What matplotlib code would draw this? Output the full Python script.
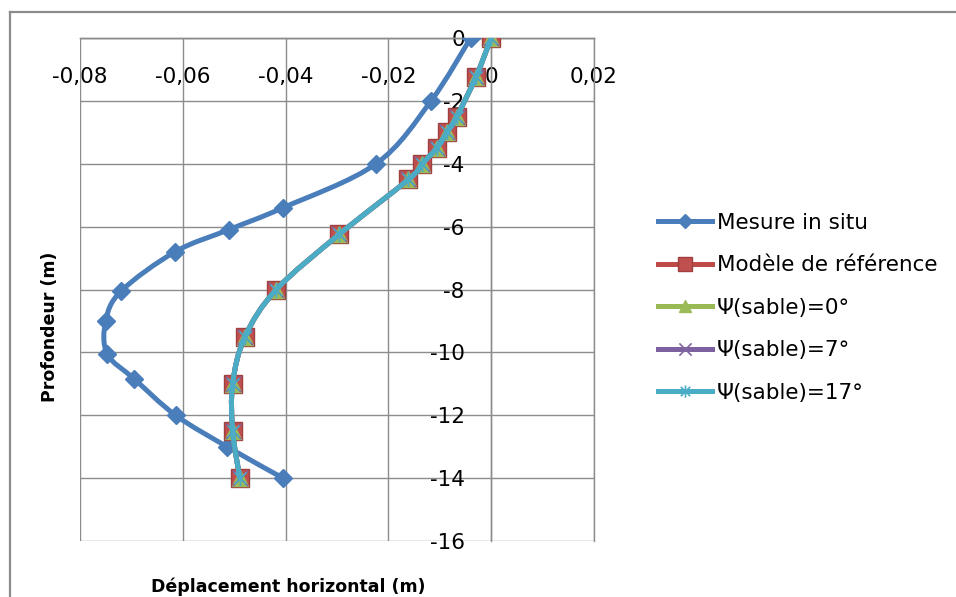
import numpy as np
import matplotlib
matplotlib.use("Agg")
import matplotlib.pyplot as plt
from matplotlib.path import Path
from matplotlib.patches import PathPatch
from matplotlib.lines import Line2D

# Données
prof_mesure = [0, -2, -4, -5.4, -6.1, -6.8, -8.05, -9.0, -10.05, -10.85, -12.0, -13.0, -14.0]
depl_mesure = [-0.004, -0.0117, -0.0224, -0.0405, -0.0511, -0.0615, -0.0720, -0.0750, -0.0747, -0.0694, -0.0614, -0.0514, -0.0405]

prof_ref = [0, -1.25, -2.5, -3.0, -3.5, -4.0, -4.5, -6.25, -8.0, -9.5, -11.0, -12.5, -14.0]
depl_ref = [0, -0.003, -0.0067, -0.0086, -0.0106, -0.0134, -0.0161, -0.0296, -0.0418, -0.0479, -0.0503, -0.0503, -0.0489]

depl_psi0 = [0, -0.003, -0.0067, -0.0086, -0.0106, -0.0134, -0.0161, -0.0296, -0.0418, -0.0479, -0.0503, -0.0503, -0.0489]
depl_psi7 = [0, -0.003, -0.0067, -0.0086, -0.0106, -0.0134, -0.0161, -0.0296, -0.0418, -0.0479, -0.0503, -0.0503, -0.0489]
depl_psi17 = [0, -0.003, -0.0067, -0.0086, -0.0106, -0.0134, -0.0161, -0.0296, -0.0418, -0.0479, -0.0503, -0.0503, -0.0489]

noms = ["Mesure in situ", "Modèle de référence", "\u03a8(sable)=0°", "\u03a8(sable)=7°", "\u03a8(sable)=17°"]

x_ticks = [-0.08, -0.06, -0.04, -0.02, 0, 0.02]
x_ticklabels = ["-0,08", "-0,06", "-0,04", "-0,02", "0", "0,02"]
y_ticks = [0, -2, -4, -6, -8, -10, -12, -14, -16]
y_ticklabels = ["0", "-2", "-4", "-6", "-8", "-10", "-12", "-14", "-16"]


def courbe_lisse(x, y):
    # lissage type Excel (Catmull-Rom -> Bezier)
    pts = np.column_stack([x, y]).astype(float)
    n = len(pts)
    verts = [pts[0]]
    codes = [Path.MOVETO]
    for i in range(n - 1):
        p0 = pts[i - 1] if i > 0 else pts[i]
        p1 = pts[i]
        p2 = pts[i + 1]
        p3 = pts[i + 2] if i + 2 < n else pts[i + 1]
        verts += [p1 + (p2 - p0) / 6, p2 - (p3 - p1) / 6, p2]
        codes += [Path.CURVE4] * 3
    return Path(verts, codes)


star = Path([(-1, -1), (1, 1), (-1, 1), (1, -1), (0, -1.3), (0, 1.3)],
            [Path.MOVETO, Path.LINETO] * 3)
xmark = Path([(-1, -1), (1, 1), (-1, 1), (1, -1)], [Path.MOVETO, Path.LINETO] * 2)

series = [
    (depl_mesure, prof_mesure, "#4a7ebb", dict(marker="D", ms=9, mfc="#4a7ebb", mec="#4a7ebb")),
    (depl_ref, prof_ref, "#be4b48", dict(marker="s", ms=13, mfc="#c0504d", mec="#a0403e", mew=1)),
    (depl_psi0, prof_ref, "#98b954", dict(marker="^", ms=11, mfc="#9bbb59", mec="#9bbb59")),
    (depl_psi7, prof_ref, "#7d60a0", dict(marker=xmark, ms=11, mfc="none", mec="#8064a2", mew=1.2)),
    (depl_psi17, prof_ref, "#4bacc6", dict(marker=star, ms=11, mfc="none", mec="#4bacc6", mew=1.2)),
]

fig = plt.figure(figsize=(9.56, 5.97), dpi=100)
ax = fig.add_axes([80 / 956, 1 - 541 / 597, 514 / 956, 503 / 597])

handles = []
for k, (x, y, c, mk) in enumerate(series):
    ax.add_patch(PathPatch(courbe_lisse(x, y), facecolor="none", edgecolor=c,
                           lw=3.6, zorder=3 + 2 * k, capstyle="round", joinstyle="round"))
    ax.plot(x, y, ls="none", zorder=4 + 2 * k, **mk)
    hk = dict(mk)
    hk["ms"] = mk["ms"] * 0.8
    handles.append(Line2D([], [], color=c, lw=3.6, **hk))

ax.set_xlim(-0.08, 0.02)
ax.set_ylim(-16, 0)
ax.set_xticks(x_ticks)
ax.set_xticklabels(x_ticklabels)
ax.set_yticks(y_ticks)
ax.set_yticklabels(y_ticklabels)
ax.grid(True, color="#8c8c8c", lw=1)
ax.set_axisbelow(True)

for s in ax.spines.values():
    s.set_color("#8c8c8c")
    s.set_linewidth(1)
ax.spines["bottom"].set_position(("data", 0))
ax.spines["left"].set_position(("data", 0))
ax.tick_params(axis="x", length=0, pad=21, labelsize=15.5)
ax.tick_params(axis="y", length=0, pad=19, labelsize=15.5)

fig.text(288 / 956, 1 - 587 / 597, "Déplacement horizontal (m)", ha="center", va="center",
         fontsize=12.5, fontweight="bold")
fig.text(50 / 956, 1 - 327 / 597, "Profondeur (m)", ha="center", va="center",
         rotation=90, fontsize=12.5, fontweight="bold")

fig.legend(handles, noms, loc="upper left", bbox_to_anchor=(658 / 956, 1 - 213 / 597),
           frameon=False, fontsize=15.5, borderpad=0, borderaxespad=0,
           handlelength=2.5, handletextpad=0.25, labelspacing=1.04)

# cadre du graphique
fig.add_artist(Line2D([10 / 956, 10 / 956], [0, 1 - 12 / 597], color="#8c8c8c", lw=1.6))
fig.add_artist(Line2D([10 / 956, 1], [1 - 12 / 597, 1 - 12 / 597], color="#8c8c8c", lw=1.6))

fig.savefig("out.png", dpi=100)
